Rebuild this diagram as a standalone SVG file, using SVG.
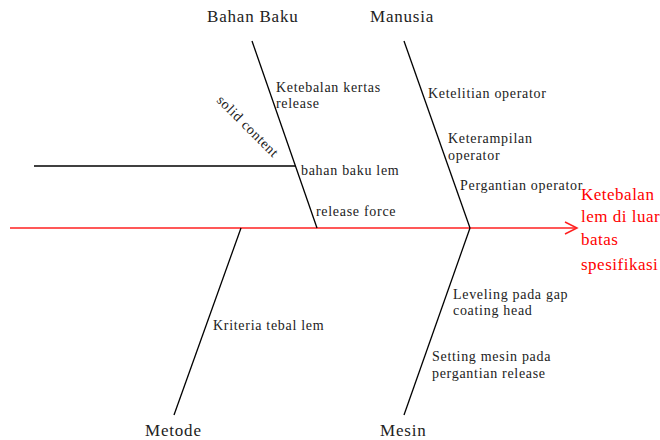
<svg xmlns="http://www.w3.org/2000/svg" width="660" height="440" viewBox="0 0 660 440">
<style>
text{font-family:"Liberation Serif","Times New Roman",serif;fill:#222}
.cat{font-size:17px;letter-spacing:0.8px}
.lbl{font-size:14px;letter-spacing:0.7px}
.red{fill:#ff0000;font-size:17px;letter-spacing:0.5px}
.bone{stroke:#000;stroke-width:1.3;fill:none}
.spine{stroke:#ff2020;stroke-width:1.5;fill:none}
</style>
<rect width="660" height="440" fill="#fff"/>
<g id="connectors">
<line class="spine" x1="10" y1="228" x2="576" y2="228"/>
<polyline class="spine" points="565,222 577,228 565,234" stroke-width="2"/>
<line class="bone" x1="252" y1="41" x2="317" y2="228"/>
<line class="bone" x1="34" y1="166" x2="295" y2="166"/>
<line class="bone" x1="404" y1="41" x2="470" y2="228"/>
<line class="bone" x1="470" y1="228" x2="404" y2="415"/>
<line class="bone" x1="241" y1="228" x2="174" y2="415"/>
</g>
<g id="bahan-baku">
<text class="cat" x="207" y="22">Bahan Baku</text>
<text class="lbl" x="276" y="92">Ketebalan kertas</text>
<text class="lbl" x="276" y="108">release</text>
<text class="lbl" x="216" y="101" transform="rotate(45 216 101)">solid content</text>
<text class="lbl" x="301" y="175">bahan baku lem</text>
<text class="lbl" x="316" y="216">release force</text>
</g>
<g id="manusia">
<text class="cat" x="370" y="22">Manusia</text>
<text class="lbl" x="428" y="98">Ketelitian operator</text>
<text class="lbl" x="448" y="143">Keterampilan</text>
<text class="lbl" x="448" y="160">operator</text>
<text class="lbl" x="460" y="190">Pergantian operator</text>
</g>
<g id="metode">
<text class="cat" x="145" y="436">Metode</text>
<text class="lbl" x="213" y="330">Kriteria tebal lem</text>
</g>
<g id="mesin">
<text class="cat" x="380" y="436">Mesin</text>
<text class="lbl" x="453" y="299">Leveling pada gap</text>
<text class="lbl" x="453" y="315">coating head</text>
<text class="lbl" x="432" y="361">Setting mesin pada</text>
<text class="lbl" x="432" y="378">pergantian release</text>
</g>
<g id="effect">
<text class="red" x="581" y="200">Ketebalan</text>
<text class="red" x="581" y="222">lem di luar</text>
<text class="red" x="581" y="245">batas</text>
<text class="red" x="581" y="270">spesifikasi</text>
</g>
</svg>
